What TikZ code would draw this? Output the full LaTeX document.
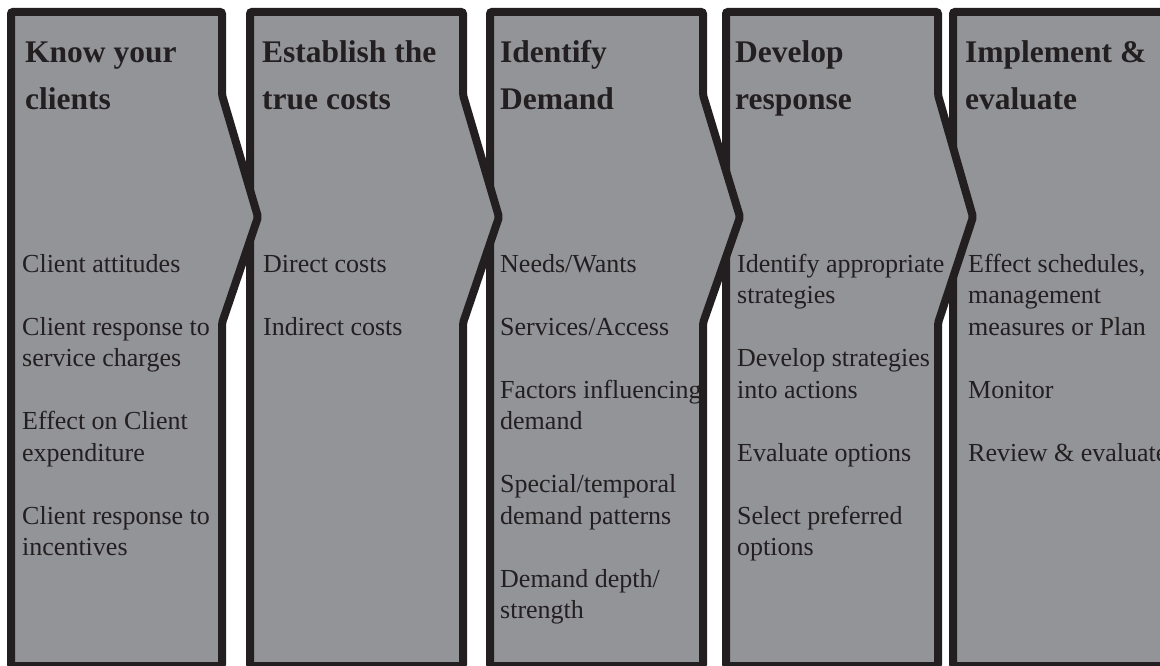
\documentclass[tikz,border=0pt]{standalone}
\usepackage{fontspec}
\setmainfont{Liberation Serif}
\definecolor{panelfill}{HTML}{939498}
\definecolor{ink}{HTML}{231F20}
\newcommand\chevpanel[3]{%
  \filldraw[panel] (#1,12) -- (#2,12) -- (#2,95) -- (#3,217) -- (#2,323) -- (#2,666) -- (#1,666) -- cycle;}
\begin{document}
\begin{tikzpicture}[x=1pt,y=-1pt,
  panel/.style={fill=panelfill,draw=ink,line width=8pt,rounded corners=2pt,line join=miter},
  ttl/.style={anchor=base west,inner sep=0pt,text=ink,font=\fontsize{31.5}{47}\selectfont\bfseries},
  body/.style={anchor=base west,inner sep=0pt,text=ink,font=\fontsize{26}{31.5}\selectfont}]
\useasboundingbox (0,0) rectangle (1160,666);
\clip (0,0) rectangle (1160,666);
% panels, drawn right to left so each arrow tip overlaps the next panel
\chevpanel{953}{1175}{1175}
\chevpanel{726}{938}{973}
\chevpanel{490}{703}{740}
\chevpanel{250}{463}{499}
\chevpanel{11}{222}{258}
% titles
\node[ttl] (h1a) at (25,63) {Know your};
\node[ttl] (h1b) at (25,110) {clients};
\node[ttl] (h2a) at (262,63) {Establish the};
\node[ttl] (h2b) at (262,110) {true costs};
\node[ttl] (h3a) at (500,63) {Identify};
\node[ttl] (h3b) at (500,110) {Demand};
\node[ttl] (h4a) at (735,63) {Develop};
\node[ttl] (h4b) at (735,110) {response};
\node[ttl] (h5a) at (965,63) {Implement \&};
\node[ttl] (h5b) at (965,110) {evaluate};
% panel 1
\node[body] (a1) at (22,272) {Client attitudes};
\node[body] (a2) at (22,335) {Client response to};
\node[body] (a3) at (22,366.5) {service charges};
\node[body] (a4) at (22,429.5) {Effect on Client};
\node[body] (a5) at (22,461) {expenditure};
\node[body] (a6) at (22,524) {Client response to};
\node[body] (a7) at (22,555.5) {incentives};
% panel 2
\node[body] (b1) at (263,272) {Direct costs};
\node[body] (b2) at (263,335) {Indirect costs};
% panel 3
\node[body] (c1) at (500,272) {Needs/Wants};
\node[body] (c2) at (500,335) {Services/Access};
\node[body] (c3) at (500,398) {Factors influencing};
\node[body] (c4) at (500,429.5) {demand};
\node[body] (c5) at (500,492.5) {Special/temporal};
\node[body] (c6) at (500,524) {demand patterns};
\node[body] (c7) at (500,587) {Demand depth/};
\node[body] (c8) at (500,618.5) {strength};
% panel 4
\node[body] (d1) at (737,272) {Identify appropriate};
\node[body] (d2) at (737,303.5) {strategies};
\node[body] (d3) at (737,366.5) {Develop strategies};
\node[body] (d4) at (737,398) {into actions};
\node[body] (d5) at (737,461) {Evaluate options};
\node[body] (d6) at (737,524) {Select preferred};
\node[body] (d7) at (737,555.5) {options};
% panel 5
\node[body] (e1) at (968,272) {Effect schedules,};
\node[body] (e2) at (968,303.5) {management};
\node[body] (e3) at (968,335) {measures or Plan};
\node[body] (e4) at (968,398) {Monitor};
\node[body] (e5) at (968,461) {Review \& evaluate};
\end{tikzpicture}
\end{document}
